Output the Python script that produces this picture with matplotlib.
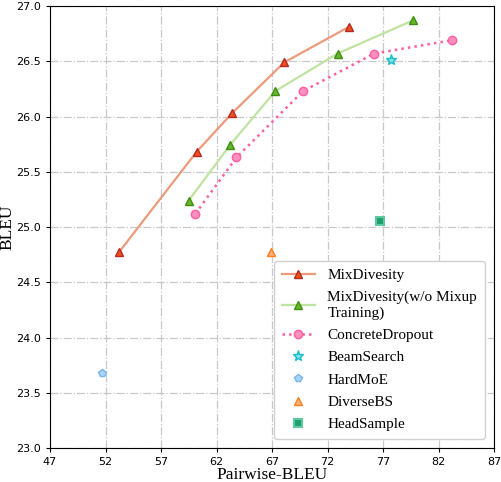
import matplotlib
matplotlib.use("Agg")
import matplotlib.pyplot as plt

# Pairwise-BLEU (x) vs BLEU (y)
mix_x = [53.2, 60.2, 63.4, 68.1, 73.9]
mix_y = [24.77, 25.68, 26.03, 26.49, 26.81]

nomix_x = [59.5, 63.2, 67.3, 72.9, 79.7]
nomix_y = [25.24, 25.74, 26.23, 26.57, 26.87]

drop_x = [60.1, 63.8, 69.8, 76.2, 83.2]
drop_y = [25.12, 25.63, 26.23, 26.57, 26.69]

beam_x, beam_y = [77.7], [26.51]
hardmoe_x, hardmoe_y = [51.7], [23.68]
diverse_x, diverse_y = [66.9], [24.77]
head_x, head_y = [76.7], [25.05]

x_ticks = [47, 52, 57, 62, 67, 72, 77, 82, 87]
y_ticks = [23.0, 23.5, 24.0, 24.5, 25.0, 25.5, 26.0, 26.5, 27.0]

fig = plt.figure(figsize=(5.02, 4.82), dpi=100)
ax = fig.add_axes([0.0996, 0.0705, 0.8845, 0.917])

ax.plot(mix_x, mix_y, color="#ec9a7c", lw=1.6, marker="^", ms=6,
        mfc="#f0501e", mec="#b52a20", mew=1.0, label="MixDivesity")
ax.plot(nomix_x, nomix_y, color="#bfe3a0", lw=1.6, marker="^", ms=6,
        mfc="#66b82a", mec="#3f8c14", mew=1.0,
        label="MixDivesity(w/o Mixup\nTraining)")
ax.plot(drop_x, drop_y, color="#ff5fa2", lw=1.8, ls=":", marker="o", ms=6,
        mfc="#ff8fbe", mec="#ff5fa2", mew=1.0, label="ConcreteDropout")
ax.plot(beam_x, beam_y, ls="none", marker="*", ms=8, mfc="#7fe3e8",
        mec="#17bcc8", mew=1.0, label="BeamSearch")
ax.plot(hardmoe_x, hardmoe_y, ls="none", marker="p", ms=5.5, mfc="#a9d4f7",
        mec="#74b6ee", mew=1.0, label="HardMoE")
ax.plot(diverse_x, diverse_y, ls="none", marker="^", ms=5.5, mfc="#ffb07a",
        mec="#ff7f1e", mew=1.0, label="DiverseBS")
ax.plot(head_x, head_y, ls="none", marker="s", ms=6, mfc="#1f9e6e",
        mec="#5cc9a0", mew=1.5, label="HeadSample")

ax.set_xlim(47, 87)
ax.set_ylim(23.0, 27.0)
ax.set_xticks(x_ticks)
ax.set_yticks(y_ticks)
ax.tick_params(labelsize=8, direction="out", length=3)
ax.grid(True, ls="-.", color="#c8c8c8", lw=0.9)
ax.set_axisbelow(True)

ax.set_xlabel("Pairwise-BLEU", family="Liberation Serif", fontsize=12.5, labelpad=0)
ax.set_ylabel("BLEU", family="Liberation Serif", fontsize=12.5, labelpad=0.5)

ax.legend(loc="lower right", prop={"family": "Liberation Serif", "size": 11},
          framealpha=1.0, edgecolor="#d0d0d0", borderaxespad=0.6,
          handlelength=2.2, labelspacing=0.56, borderpad=0.5)

fig.savefig("out.png", dpi=100)
